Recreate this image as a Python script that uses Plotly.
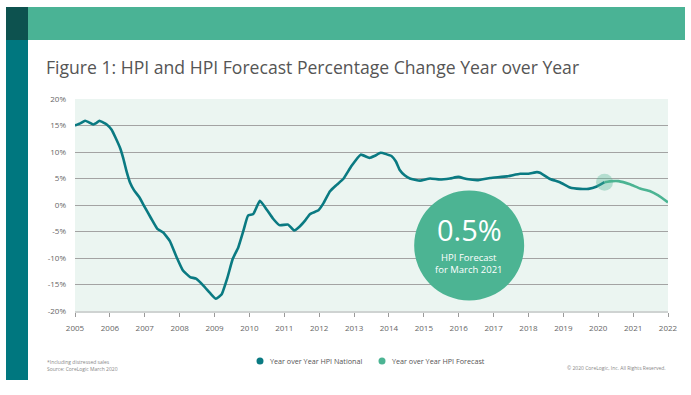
import plotly.graph_objects as go

# ---------------- data ----------------
national_years = [
    2005.00, 2005.15, 2005.29, 2005.40, 2005.52, 2005.62, 2005.70, 2005.80, 2005.91,
    2006.05, 2006.17, 2006.29, 2006.38, 2006.48, 2006.58, 2006.69, 2006.84,
    2007.00, 2007.18, 2007.36, 2007.53, 2007.72, 2007.91,
    2008.09, 2008.30, 2008.47, 2008.68, 2008.87,
    2009.04, 2009.20, 2009.37, 2009.52, 2009.68, 2009.83, 2009.96,
    2010.11, 2010.30, 2010.50, 2010.68, 2010.86,
    2011.11, 2011.28, 2011.45, 2011.60, 2011.74, 2011.98,
    2012.12, 2012.31, 2012.50, 2012.69, 2012.93,
    2013.19, 2013.44, 2013.60, 2013.76, 2013.92,
    2014.08, 2014.20, 2014.31, 2014.45, 2014.60, 2014.89,
    2015.18, 2015.46, 2015.75, 2015.99,
    2016.23, 2016.56, 2016.90,
    2017.38, 2017.76, 2018.00, 2018.24, 2018.33, 2018.62, 2018.90,
    2019.19, 2019.48, 2019.72, 2019.96, 2020.18,
]
national_values = [
    15.0, 15.4, 15.9, 15.6, 15.2, 15.5, 15.9, 15.6, 15.2,
    14.2, 12.6, 10.8, 8.9, 6.3, 4.2, 2.8, 1.5,
    -0.4, -2.5, -4.5, -5.2, -6.8, -9.8,
    -12.3, -13.6, -13.9, -15.2, -16.6,
    -17.7, -16.9, -13.7, -10.2, -8.0, -4.8, -2.0,
    -1.7, 0.8, -0.9, -2.6, -3.8,
    -3.7, -4.8, -4.0, -2.9, -1.7, -1.0,
    0.3, 2.6, 3.8, 4.9, 7.4,
    9.5, 8.9, 9.3, 9.85, 9.6,
    9.2, 8.2, 6.6, 5.6, 5.0, 4.6,
    5.0, 4.8, 5.0, 5.3,
    4.9, 4.7, 5.1,
    5.4, 5.9, 5.9, 6.2, 6.1, 4.9, 4.3,
    3.3, 3.05, 3.05, 3.5, 4.3,
]
forecast_years = [2020.18, 2020.40, 2020.58, 2020.91, 2021.20, 2021.49, 2021.72, 2022.00]
forecast_values = [4.3, 4.5, 4.5, 3.9, 3.1, 2.6, 1.8, 0.5]

tick_years = list(range(2005, 2023))
y_ticks = [20, 15, 10, 5, 0, -5, -10, -15, -20]
y_tick_labels = [f"{v}%" for v in y_ticks]

series_names = ["Year over Year HPI National", "Year over Year HPI Forecast"]
title_text = "Figure 1: HPI and HPI Forecast Percentage Change Year over Year"
callout_value = "0.5%"
callout_text = "HPI Forecast<br>for March 2021"
footnote_text = "*Including distressed sales<br>Source: CoreLogic March 2020"
copyright_text = "\u00a9 2020 CoreLogic, Inc. All Rights Reserved."

# ---------------- style ----------------
W, H = 691, 395
L, R, T, B = 75, 668, 99, 311  # plot area in pixels
C_NAT = "#0a7a82"
C_FC = "#4cb493"
C_BAND = "#4ab395"
C_DARK = "#0d524f"
C_BAR = "#00777f"
FONT = "Open Sans"


def px(xp):
    return (xp - L) / (R - L)


def py(yp):
    return (B - yp) / (B - T)


fig = go.Figure()

fig.add_trace(go.Scatter(x=national_years, y=national_values, mode="lines",
                         name=series_names[0],
                         line=dict(color=C_NAT, width=2.6, shape="spline", smoothing=0.4),
                         showlegend=False, hoverinfo="skip"))
fig.add_trace(go.Scatter(x=forecast_years, y=forecast_values, mode="lines",
                         name=series_names[1],
                         line=dict(color=C_FC, width=2.6, shape="spline", smoothing=0.4),
                         showlegend=False, hoverinfo="skip"))
# highlight of the start of the forecast
fig.add_trace(go.Scatter(x=[forecast_years[0]], y=[forecast_values[0]], mode="markers",
                         marker=dict(size=17, color="rgba(77,180,147,0.35)"),
                         showlegend=False, hoverinfo="skip"))

shapes = [
    dict(type="rect", xref="paper", yref="paper", x0=px(6), x1=px(685), y0=py(7), y1=py(40),
         fillcolor=C_BAND, line=dict(width=0), layer="below"),
    dict(type="rect", xref="paper", yref="paper", x0=px(6), x1=px(28), y0=py(7), y1=py(40),
         fillcolor=C_DARK, line=dict(width=0), layer="below"),
    dict(type="rect", xref="paper", yref="paper", x0=px(6), x1=px(28), y0=py(40), y1=py(380),
         fillcolor=C_BAR, line=dict(width=0), layer="below"),
    # big callout circle
    dict(type="circle", xref="x", yref="y", xsizemode="pixel", ysizemode="pixel",
         xanchor=2016.3, yanchor=-7.64, x0=-55, x1=55, y0=-55, y1=55,
         fillcolor=C_FC, line=dict(width=0), layer="above"),
    # legend dots
    dict(type="circle", xref="paper", yref="paper", x0=px(256.5), x1=px(263.5),
         y0=py(357.5), y1=py(364.5), fillcolor=C_NAT, line=dict(width=0)),
    dict(type="circle", xref="paper", yref="paper", x0=px(378.5), x1=px(385.5),
         y0=py(357.5), y1=py(364.5), fillcolor=C_FC, line=dict(width=0)),
]

annotations = [
    dict(text=title_text, xref="paper", yref="paper", x=px(44), y=py(67),
         xanchor="left", yanchor="middle", showarrow=False,
         font=dict(family=FONT, size=17.6, color="#555555")),
    dict(text=callout_value, xref="x", yref="y", x=2016.3, y=-7.64, yshift=16,
         xanchor="center", yanchor="middle", showarrow=False,
         font=dict(family=FONT, size=29, color="white")),
    dict(text=callout_text, xref="x", yref="y", x=2016.3, y=-7.64, yshift=-18,
         xanchor="center", yanchor="middle", showarrow=False,
         font=dict(family=FONT, size=9.5, color="white")),
    dict(text=series_names[0], xref="paper", yref="paper", x=px(268), y=py(361),
         xanchor="left", yanchor="middle", showarrow=False,
         font=dict(family=FONT, size=7.2, color="#555555")),
    dict(text=series_names[1], xref="paper", yref="paper", x=px(390), y=py(361),
         xanchor="left", yanchor="middle", showarrow=False,
         font=dict(family=FONT, size=7.2, color="#555555")),
    dict(text=footnote_text, xref="paper", yref="paper", x=px(45), y=py(365),
         xanchor="left", yanchor="middle", showarrow=False, align="left",
         font=dict(family=FONT, size=5, color="#888888")),
    dict(text=copyright_text, xref="paper", yref="paper", x=px(668), y=py(368),
         xanchor="right", yanchor="middle", showarrow=False,
         font=dict(family=FONT, size=5, color="#888888")),
]

fig.update_layout(
    width=W, height=H,
    margin=dict(l=L, r=W - R, t=T, b=H - B),
    paper_bgcolor="white",
    plot_bgcolor="#ebf5f1",
    font=dict(family=FONT, color="#666666"),
    shapes=shapes,
    annotations=annotations,
    showlegend=False,
)
fig.update_xaxes(range=[2005, 2022], tickvals=tick_years, ticktext=[str(y) for y in tick_years],
                 showgrid=False, zeroline=False, showline=True, linecolor="#cfd3d2", linewidth=2,
                 ticks="outside", ticklen=4, tickcolor="#9a9a9a", tickwidth=1,
                 ticklabelstandoff=4,
                 tickfont=dict(family=FONT, size=8, color="#666666"))
fig.update_yaxes(range=[-20, 20], tickvals=y_ticks, ticktext=y_tick_labels,
                 showgrid=True, gridcolor="#a3a3a3", gridwidth=1,
                 zeroline=True, zerolinecolor="#a3a3a3", zerolinewidth=1,
                 showline=False, ticks="", ticklabelstandoff=8,
                 tickfont=dict(family=FONT, size=8, color="#666666"))

fig.write_html("out.html", config={"displayModeBar": False},
               post_script="document.body.style.margin='0';")
